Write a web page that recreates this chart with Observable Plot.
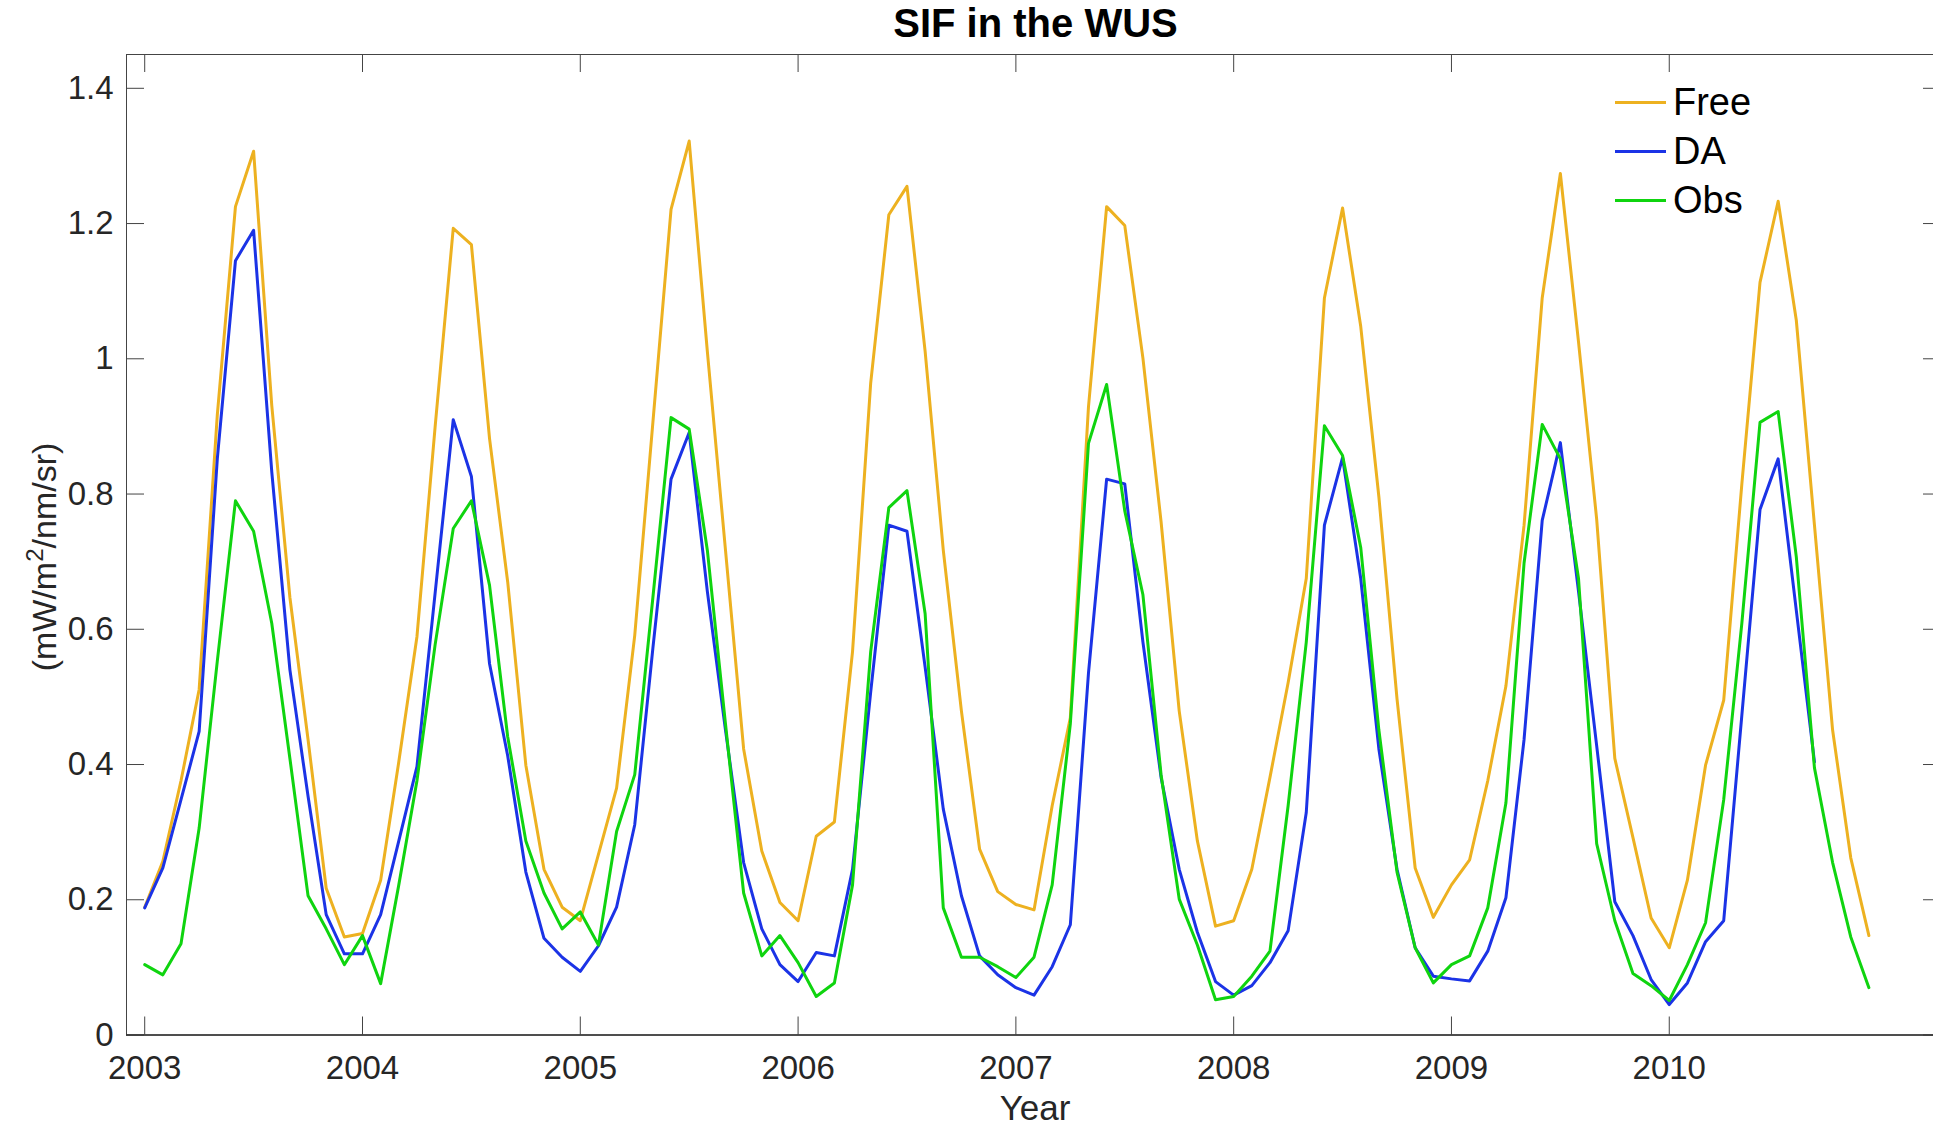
<!DOCTYPE html>
<html>
<head>
<meta charset="utf-8">
<script src="https://cdn.jsdelivr.net/npm/d3@7"></script>
<script src="https://cdn.jsdelivr.net/npm/@observablehq/plot@0.6"></script>
<style>
  body { margin: 0; background: #fff; font-family: "Liberation Sans", Arial, sans-serif; }
  #wrap { position: relative; width: 1933px; height: 1129px; overflow: hidden; background: #fff; }
  #title { height: 44px; line-height: 46px; font-size: 40px; font-weight: bold; text-align: center; padding-left: 138px; color: #000; white-space: nowrap; }
  #chart { width: 1941px; }
  #chart svg { max-width: none !important; }
  #legend { position: absolute; left: 1615px; top: 78px; }
  .item { display: flex; align-items: center; height: 49px; }
  .sw { width: 51px; height: 3px; margin-right: 7px; }
  .lab { font-size: 38px; color: #000; line-height: 49px; }
</style>
</head>
<body>
<div id="wrap">
  <div id="title">SIF in the WUS</div>
  <div id="chart"></div>
  <div id="legend"></div>
</div>
<script>
// ---- data (monthly, Jan 2003 .. Dec 2010) ----
const startYear = 2003;
const seriesNames = ["Free", "DA", "Obs"];
const seriesColors = ["#EDB120", "#1B33E6", "#0FD40F"];

const free = [
  0.189, 0.257, 0.376, 0.511, 0.917, 1.225, 1.307, 0.931, 0.647, 0.437, 0.217, 0.145,
  0.150, 0.229, 0.404, 0.589, 0.899, 1.193, 1.169, 0.882, 0.670, 0.399, 0.245, 0.189,
  0.169, 0.267, 0.365, 0.591, 0.906, 1.221, 1.322, 1.011, 0.717, 0.423, 0.272, 0.196,
  0.169, 0.294, 0.315, 0.567, 0.964, 1.213, 1.255, 1.011, 0.717, 0.479, 0.275, 0.212,
  0.193, 0.185, 0.339, 0.469, 0.929, 1.225, 1.197, 1.001, 0.759, 0.479, 0.287, 0.161,
  0.169, 0.245, 0.381, 0.521, 0.675, 1.090, 1.223, 1.048, 0.796, 0.497, 0.247, 0.174,
  0.222, 0.259, 0.376, 0.516, 0.754, 1.090, 1.274, 1.025, 0.763, 0.409, 0.292, 0.173,
  0.129, 0.229, 0.399, 0.495, 0.815, 1.113, 1.233, 1.057, 0.754, 0.451, 0.262, 0.147
];
const da = [
  0.188, 0.247, 0.348, 0.449, 0.852, 1.145, 1.190, 0.833, 0.540, 0.353, 0.178, 0.120,
  0.120, 0.178, 0.287, 0.397, 0.653, 0.910, 0.826, 0.549, 0.413, 0.241, 0.143, 0.115,
  0.094, 0.132, 0.189, 0.311, 0.572, 0.822, 0.891, 0.656, 0.451, 0.255, 0.157, 0.104,
  0.079, 0.122, 0.117, 0.245, 0.507, 0.754, 0.745, 0.544, 0.334, 0.206, 0.117, 0.089,
  0.070, 0.059, 0.101, 0.163, 0.535, 0.822, 0.815, 0.581, 0.381, 0.245, 0.152, 0.079,
  0.059, 0.073, 0.107, 0.154, 0.329, 0.754, 0.854, 0.675, 0.423, 0.245, 0.129, 0.087,
  0.083, 0.080, 0.124, 0.203, 0.437, 0.761, 0.876, 0.656, 0.428, 0.197, 0.147, 0.082,
  0.045, 0.077, 0.138, 0.169, 0.473, 0.777, 0.852, 0.628, 0.404, null, null, null
];
const obs = [
  0.104, 0.089, 0.135, 0.306, 0.553, 0.790, 0.745, 0.609, 0.409, 0.206, 0.157, 0.104,
  0.147, 0.076, 0.222, 0.376, 0.577, 0.749, 0.790, 0.665, 0.441, 0.287, 0.210, 0.157,
  0.182, 0.133, 0.301, 0.385, 0.647, 0.913, 0.896, 0.717, 0.460, 0.210, 0.117, 0.147,
  0.107, 0.057, 0.077, 0.222, 0.567, 0.780, 0.805, 0.623, 0.188, 0.115, 0.115, 0.101,
  0.085, 0.115, 0.222, 0.460, 0.875, 0.962, 0.775, 0.651, 0.385, 0.201, 0.133, 0.052,
  0.057, 0.087, 0.124, 0.339, 0.581, 0.901, 0.857, 0.721, 0.451, 0.241, 0.129, 0.077,
  0.104, 0.117, 0.188, 0.343, 0.698, 0.903, 0.852, 0.675, 0.283, 0.169, 0.091, 0.073,
  0.051, 0.104, 0.166, 0.348, 0.609, 0.906, 0.922, 0.707, 0.395, 0.255, 0.145, 0.070
];

const xTicks = [2003, 2004, 2005, 2006, 2007, 2008, 2009, 2010];
const xTickLabels = ["2003", "2004", "2005", "2006", "2007", "2008", "2009", "2010"];
const yTicks = [0, 0.2, 0.4, 0.6, 0.8, 1.0, 1.2, 1.4];
const yTickLabels = ["0", "0.2", "0.4", "0.6", "0.8", "1", "1.2", "1.4"];

// ---- build table ----
const toRows = (vals, name) => vals
  .map((v, i) => ({ t: startYear + i / 12, v, series: name }))
  .filter(d => d.v !== null);
const allSeries = [free, da, obs];
const rows = allSeries.map((s, k) => toRows(s, seriesNames[k]));

// ---- layout ----
const titleH = 44;
const W = 1941, H = 1129 - titleH;
const mLeft = 126, mRight = 0, mTop = 54 - titleH, mBottom = H - (1034.5 - titleH);
const xDom = [2002.9164, 2011.25];
const yDom = [0, 1.45];
const tickPx = 18;
const tickX = (xDom[1] - xDom[0]) * tickPx / (W - mLeft - mRight);
const tickY = (yDom[1] - yDom[0]) * tickPx / (H - mTop - mBottom);
const axisColor = "#444";
const textColor = "#262626";

const chart = Plot.plot({
  width: W,
  height: H,
  marginLeft: mLeft,
  marginRight: mRight,
  marginTop: mTop,
  marginBottom: mBottom,
  style: { fontFamily: "'Liberation Sans', Arial, sans-serif", fontSize: "33px", color: textColor, background: "white", overflow: "visible", maxWidth: "none" },
  x: { domain: xDom },
  y: { domain: yDom },
  marks: [
    // inward tick marks on all four sides
    Plot.ruleX(xTicks, { x: d => d, y1: yDom[0], y2: yDom[0] + tickY, stroke: axisColor, strokeWidth: 1 }),
    Plot.ruleX(xTicks, { x: d => d, y1: yDom[1], y2: yDom[1] - tickY, stroke: axisColor, strokeWidth: 1 }),
    Plot.ruleY(yTicks, { y: d => d, x1: xDom[0], x2: xDom[0] + tickX, stroke: axisColor, strokeWidth: 1 }),
    Plot.ruleY(yTicks, { y: d => d, x1: xDom[1], x2: xDom[1] - tickX, stroke: axisColor, strokeWidth: 1 }),
    Plot.axisX({ ticks: xTicks, tickSize: 0, tickPadding: 21, tickFormat: d => xTickLabels[xTicks.indexOf(d)], label: null, fontSize: 33, fill: textColor }),
    Plot.axisY({ ticks: yTicks, tickSize: 0, tickPadding: 13, tickFormat: d => yTickLabels[yTicks.indexOf(d)], label: null, fontSize: 33, fill: textColor }),
    ...rows.map((r, k) => Plot.line(r, { x: "t", y: "v", stroke: seriesColors[k], strokeWidth: 3, strokeLinejoin: "round" })),
    Plot.frame({ stroke: axisColor, strokeWidth: 1 }),
    Plot.ruleY([0], { stroke: "#333", strokeWidth: 1.5 })
  ]
});

document.getElementById("chart").appendChild(chart);

// axis titles
const svg = d3.select(chart);
const yl = svg.append("text")
  .attr("transform", `translate(56, ${557 - titleH}) rotate(-90)`)
  .attr("text-anchor", "middle")
  .attr("font-size", 34)
  .attr("fill", textColor);
yl.append("tspan").text("(mW/m");
yl.append("tspan").attr("dy", -13).attr("font-size", 24).text("2");
yl.append("tspan").attr("dy", 13).text("/nm/sr)");

svg.append("text")
  .attr("x", 1035)
  .attr("y", 1120 - titleH)
  .attr("text-anchor", "middle")
  .attr("font-size", 35)
  .attr("fill", textColor)
  .text("Year");

// legend
const leg = d3.select("#legend");
seriesNames.forEach((n, k) => {
  const it = leg.append("div").attr("class", "item");
  it.append("div").attr("class", "sw").style("background", seriesColors[k]);
  it.append("span").attr("class", "lab").text(n);
});
</script>
</body>
</html>
